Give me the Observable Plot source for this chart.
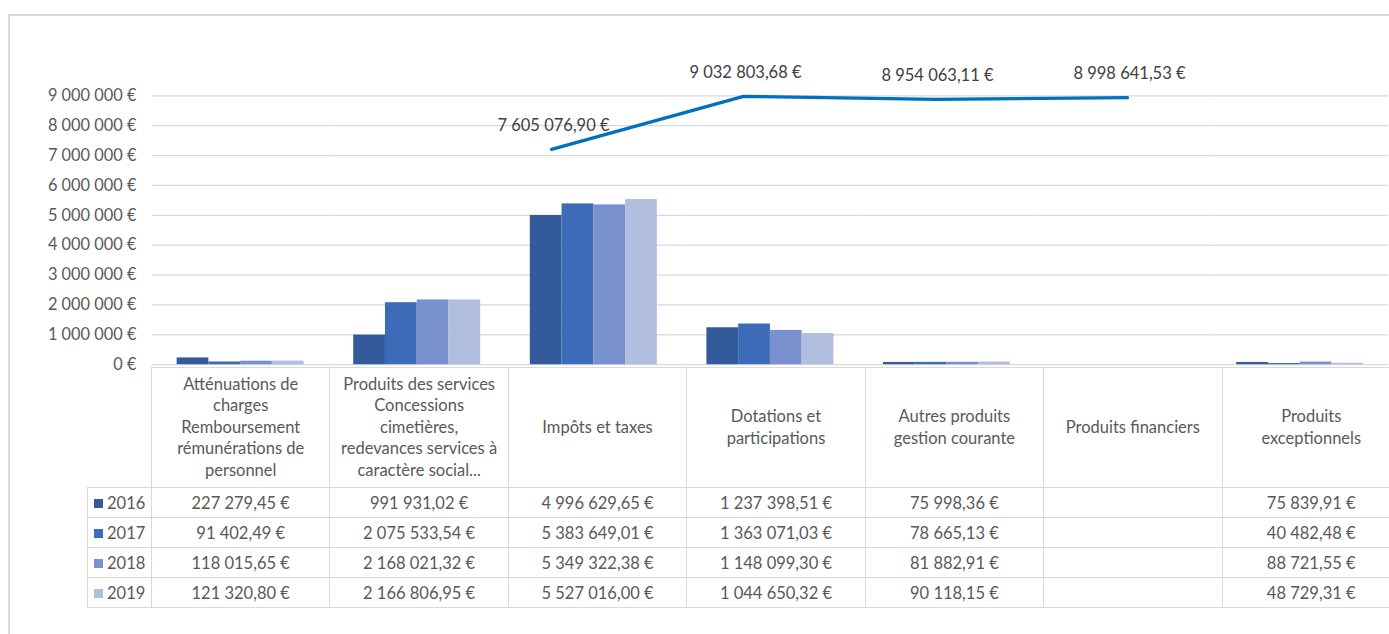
<!DOCTYPE html>
<html>
<head>
<meta charset="utf-8">
<script src="https://cdn.jsdelivr.net/npm/d3@7"></script>
<script src="https://cdn.jsdelivr.net/npm/@observablehq/plot@0.6"></script>
<style>
  html, body { margin: 0; padding: 0; background: #fff; overflow: hidden; }
  #root { position: relative; width: 1389px; height: 634px; overflow: hidden; font-family: Lato, "Open Sans", sans-serif; }
  #frame { position: absolute; left: 8px; top: 14px; width: 1420px; height: 700px; border-left: 2px solid #d9d9d9; border-top: 2px solid #d9d9d9; box-sizing: border-box; }
  #bars { position: absolute; left: 0; top: 14px; }
  #line { position: absolute; left: 0; top: 0; pointer-events: none; }
  table.dt { position: absolute; left: 87px; top: 367px; border-collapse: collapse; table-layout: fixed; width: 1313px; font-family: Lato, sans-serif; font-size: 16.5px; color: #595959; }
  table.dt td { border: 1px solid #d9d9d9; text-align: center; vertical-align: middle; padding: 0 3px; white-space: nowrap; }
  table.dt td.head { white-space: pre-line; line-height: 21.5px; height: 119px; }
  table.dt td.corner { border-top: none; border-left: none; }
  table.dt td.leg { text-align: left; padding-left: 6px; }
  table.dt tr.r td { height: 29px; }
  .sw { display: inline-block; width: 9px; height: 9px; margin-right: 4px; vertical-align: 1px; }
</style>
</head>
<body>
<div id="root">
  <div id="frame"></div>
  <div id="bars"></div>
  <div id="tablewrap"></div>
  <div id="line"></div>
</div>
<script>
// ---- data ----
const categories = [
  "Atténuations de\ncharges\nRemboursement\nrémunérations de\npersonnel",
  "Produits des services\nConcessions\ncimetières,\nredevances services à\ncaractère social...",
  "Impôts et taxes",
  "Dotations et\nparticipations",
  "Autres produits\ngestion courante",
  "Produits financiers",
  "Produits\nexceptionnels"
];
const years = ["2016", "2017", "2018", "2019"];
const v2016 = [227279.45, 991931.02, 4996629.65, 1237398.51, 75998.36, null, 75839.91];
const v2017 = [91402.49, 2075533.54, 5383649.01, 1363071.03, 78665.13, null, 40482.48];
const v2018 = [118015.65, 2168021.32, 5349322.38, 1148099.30, 81882.91, null, 88721.55];
const v2019 = [121320.80, 2166806.95, 5527016.00, 1044650.32, 90118.15, null, 48729.31];
const totals = [7605076.90, 9032803.68, 8954063.11, 8998641.53];
const yTicks = [0, 1000000, 2000000, 3000000, 4000000, 5000000, 6000000, 7000000, 8000000, 9000000];
const colors = ["#335a9b", "#3e6bb8", "#7991ce", "#b2bee0"];

// ---- helpers ----
const series = [v2016, v2017, v2018, v2019];
const loc = d3.formatLocale({decimal: ",", thousands: " ", grouping: [3], currency: ["", " €"]});
const fmt0 = loc.format(",.0f");
const fmt2 = loc.format(",.2f");
const euro0 = d => fmt0(d) + " €";
const euro2 = d => fmt2(d) + " €";

const rows = [];
categories.forEach((c, i) => years.forEach((yr, j) => rows.push({category: c, year: yr, value: series[j][i]})));
const totalRows = years.map((yr, j) => ({year: yr, total: totals[j]}));

// ---- bars ----
const bars = Plot.plot({
  width: 1400, height: 353,
  marginLeft: 151, marginRight: 0, marginTop: 82, marginBottom: 0,
  style: {fontFamily: "Lato, sans-serif", fontSize: "16.5px", color: "#595959", background: "transparent", overflow: "visible"},
  facet: {data: rows, x: "category"},
  fx: {domain: categories, padding: 0, axis: null},
  x: {domain: years, axis: null, paddingInner: 0, paddingOuter: 0.745},
  y: {domain: [0, 9000000], ticks: yTicks, tickFormat: euro0, tickSize: 0, tickPadding: 16, label: null},
  color: {domain: years, range: colors},
  marks: [
    Plot.ruleY(yTicks, {stroke: "#d9d9d9", strokeWidth: 1.3}),
    Plot.barY(rows, {x: "year", y: "value", fill: "year"})
  ]
});
document.getElementById("bars").appendChild(bars);

// ---- total line (secondary axes) ----
const line = Plot.plot({
  width: 1389, height: 634, margin: 0,
  style: {fontFamily: "Lato, sans-serif", background: "transparent", overflow: "visible"},
  x: {type: "point", domain: years, range: [550, 1128], padding: 0, axis: null},
  y: {domain: [0, 10000000], range: [431, 60], axis: null},
  marks: [
    Plot.line(totalRows, {x: "year", y: "total", stroke: "#0070c0", strokeWidth: 3.2, strokeLinecap: "round"}),
    Plot.text(totalRows, {x: "year", y: "total", text: d => euro2(d.total), dy: -24, dx: 2, fill: "#404040", fontSize: 16.5})
  ]
});
document.getElementById("line").appendChild(line);

// ---- data table ----
let html = '<table class="dt"><colgroup><col style="width:64px">' +
  categories.map(() => '<col style="width:178.43px">').join("") + '</colgroup>';
html += '<tr><td class="head corner"></td>' + categories.map(c => `<td class="head">${c}</td>`).join("") + '</tr>';
years.forEach((yr, j) => {
  html += `<tr class="r"><td class="leg"><span class="sw" style="background:${colors[j]}"></span>${yr}</td>` +
    series[j].map(v => `<td>${v == null ? "" : euro2(v)}</td>`).join("") + '</tr>';
});
html += '</table>';
document.getElementById("tablewrap").innerHTML = html;
</script>
</body>
</html>
